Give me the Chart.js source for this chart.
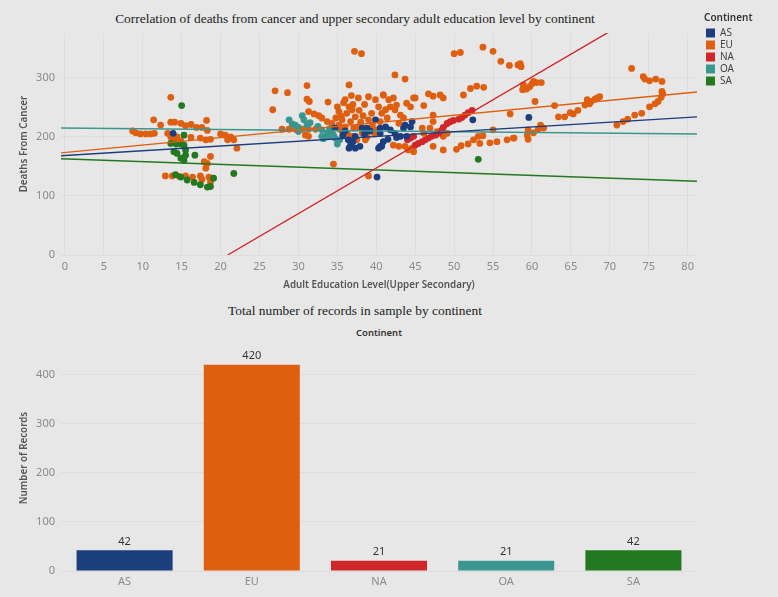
<!DOCTYPE html>
<html>
<head>
<meta charset="utf-8">
<script src="https://cdn.jsdelivr.net/npm/chart.js@4.4.1/dist/chart.umd.min.js"></script>
<style>
  html,body{margin:0;padding:0;background:#e7e7e7;}
  #wrap{position:relative;width:778px;height:597px;background:#e7e7e7;overflow:hidden;}
  .ttl{position:absolute;font-family:"Liberation Serif","Times New Roman",serif;font-size:13.4px;color:#222;white-space:nowrap;transform:translateX(-50%);}
  .hdr{position:absolute;font-family:"Noto Sans",sans-serif;font-size:9.5px;font-weight:600;color:#333;white-space:nowrap;transform:translateX(-50%);}
  canvas{position:absolute;left:0;}
</style>
</head>
<body>
<div id="wrap">
  <div class="ttl" style="left:355px;top:11px;">Correlation of deaths from cancer and upper secondary adult education level by continent</div>
  <div class="ttl" style="left:355px;top:303px;">Total number of records in sample by continent</div>
  <div class="hdr" style="left:379px;top:326px;">Continent</div>
  <canvas id="scatter" width="778" height="300" style="top:0;"></canvas>
  <canvas id="bars" width="778" height="297" style="top:300px;"></canvas>
</div>
<script>
// ---------- data ----------
const CONTINENTS = ['AS', 'EU', 'NA', 'OA', 'SA'];
const COLORS = ['#1c3d7e', '#df5f10', '#d1272a', '#3a968f', '#24781f'];

const AS_POINTS = [
  [13.9,206],
  [34.7,215],[35.7,203],[36.4,195],[36.7,186],[36.5,181],[37.3,181],[37.9,184],[38.2,215],[38.8,215],
  [39.9,229],[40.5,215],[40.3,181],[40.7,184],[37.3,201],[40.1,132],
  [40.5,206],[40.5,184],[41.2,217],[41.8,212],[42.4,206],[42.6,199],[43.5,215],[43.9,201],[43.7,220],
  [44.4,217],[44.6,226],[43.1,201],[40.9,192],[52.4,229],[59.6,233],
  [37.0,192],[38.5,205],[41.5,196],[36.0,210],[39.2,210]
];
const EU_POINTS = [
  [13.6,267],[11.4,229],[12.3,220],[13.6,225],[14.1,225],[14.9,223],[15.5,219],[16.2,221],[16.9,216],[17.6,216],[18.2,228],[18.3,211],
  [8.7,210],[9.1,207],[9.7,205],[10.4,205],[11.0,205],[11.5,206],
  [13.2,206],[13.6,200],[14.4,200],[16.2,199],[17.4,198],[18.1,195],[18.7,196],[20.0,205],[20.6,203],[21.3,200],[21.7,195],[22.1,181],[20.9,195],
  [14.0,195],[14.9,193],
  [17.9,158],[18.3,155],[18.1,147],[18.7,167],
  [12.9,134],[13.8,134],[14.7,133],[15.5,134],[16.4,132],[17.4,134],[17.6,128],[18.5,132],[18.7,124],
  [37.2,345],[38.1,341],[27.0,278],[28.6,275],[26.7,246],[31.1,287],[31.1,264],[31.4,260],[33.8,259],[36.5,288],[37.7,266],
  [31.3,243],[32.0,239],[32.6,236],[33.0,232],[33.7,226],[34.3,223],
  [35.0,251],[35.2,243],[35.6,229],[36.0,263],[36.5,251],[36.9,246],[37.3,234],[36.7,226],[36.0,217],[35.4,212],[37.1,215],
  [37.7,217],[38.2,206],[39.0,229],[39.4,240],[39.0,268],[39.9,263],[40.3,251],[40.7,240],[40.9,271],[38.6,195],[37.5,195],[36.9,201],
  [34.5,154],[39.0,134],
  [27.9,213],[28.8,213],[29.6,213],[30.5,213],[31.3,213],[32.2,213],[30.9,203],[31.3,201],
  [35.5,235],[36.2,240],[37.8,245],[38.5,255],[36.8,270],[35.8,258],[38.0,225],[39.5,220],[34.8,232],[36.3,205],[38.8,200],
  [39.8,205],[35.2,220],[37.0,255],[40.0,212],[38.3,236],
  [50.0,341],[50.8,343],[53.7,352],[55.0,345],[56.0,328],[57.1,321],[58.2,322],
  [42.4,305],[43.7,298],
  [46.7,273],[47.3,269],[48.2,271],[48.6,266],
  [51.2,271],[52.1,282],[52.9,286],[53.8,284],
  [45.0,266],[46.1,253],
  [40.9,271],[41.6,263],[42.2,266],[42.6,254],[41.8,251],[41.2,246],[42.4,246],[43.1,237],[43.5,232],[41.4,232],[40.5,226],
  [42.9,223],[43.9,257],[44.4,251],[44.8,266],
  [45.9,215],[46.9,215],[47.3,226],[47.3,237],[49.1,206],[48.6,201],[47.8,209],[46.1,206],
  [42.2,186],[42.9,184],[43.7,184],[44.1,178],[44.8,175],[44.6,181],[47.3,184],[48.6,178],[50.3,179],[50.9,185],[51.8,188],
  [52.5,195],[53.1,201],[53.7,202],[53.3,189],[54.6,190],[55.5,192],[56.8,195],[57.6,198],[55.0,212],[57.2,239],
  [58.5,324],[58.6,319],
  [58.9,288],[59.3,281],[58.8,280],[59.7,285],[60.2,294],[60.6,292],[61.2,292],[60.0,290],
  [60.4,260],[62.9,253],
  [63.4,234],[64.2,234],[64.9,241],[65.3,239],[65.9,245],
  [66.8,254],[67.1,263],[67.6,260],[67.4,256],[68.1,264],[68.4,266],[68.7,268],
  [57.7,198],[59.5,212],[60.2,207],[60.8,213],[61.1,220],[61.5,215],[59.5,196],[59.4,203],
  [72.8,316],[74.3,302],[74.5,298],[75.1,295],[75.9,298],[76.7,294],
  [76.7,277],[76.8,273],[76.6,267],[76.2,260],[75.8,256],[75.1,251],[74.1,240],[73.2,237],[72.3,230],[71.7,226],[70.9,220]
];
const NA_POINTS = [
  [44.0,195],[44.4,198],[44.8,201],[45.0,186],[45.4,189],[45.9,192],[46.3,195],[46.7,198],[47.1,201],[47.6,203],
  [48.0,206],[48.4,211],[48.6,216],[49.1,223],[49.5,226],[49.9,228],[50.6,230],[51.0,233],[51.4,237],[51.8,241],[52.3,245]
];
const OA_POINTS = [
  [28.8,229],[30.5,236],[30.7,229],[29.6,220],[31.1,220],[30.0,216],[33.0,212],[33.7,206],[33.9,201],[34.5,203],[33.0,201],
  [35.0,188],[34.7,198],[34.1,209],[31.5,224],[32.5,218],[34.0,214],[29.2,222],[35.3,195],[30.0,209],[33.2,197]
];
const SA_POINTS = [
  [15.0,253],[15.3,203],[13.6,189],[14.3,188],[14.9,188],[15.3,186],[14.0,175],[14.4,172],[15.5,178],[15.5,169],[14.9,164],
  [15.3,160],[16.7,169],[21.7,138],[14.2,136],[14.9,132],[15.7,127],[16.6,123],[17.4,119],[18.3,115],[18.7,116],[19.1,130],
  [53.1,162]
];
// trend line end points [x, y]
const AS_TREND = [[-0.5,168],[81.2,234]];
const EU_TREND = [[-0.5,173],[81.2,276]];
const NA_TREND = [[20.9,0],[81.2,465]];
const OA_TREND = [[-0.5,215],[81.2,205]];
const SA_TREND = [[-0.5,163],[81.2,125]];

const X_TICKS = [0,5,10,15,20,25,30,35,40,45,50,55,60,65,70,75,80];
const Y_TICKS = [0,100,200,300];

const BAR_VALUES = [42, 420, 21, 21, 42];
const BAR_TICKS = [0,100,200,300,400];

// ---------- helpers ----------
const toXY = arr => arr.map(p => ({x: p[0], y: p[1]}));
const TICK_FONT = {family: '"Noto Sans", sans-serif', size: 11};
const TICK_COLOR = '#8a8a8a';
const AXIS_TITLE_FONT = {family: '"Noto Sans", sans-serif', size: 9.8, weight: '600'};
const GRID_COLOR = 'rgba(0,0,0,0.045)';

const pointSets = [AS_POINTS, EU_POINTS, NA_POINTS, OA_POINTS, SA_POINTS];
const trendSets = [AS_TREND, EU_TREND, NA_TREND, OA_TREND, SA_TREND];
const pointOrder = [1, 3, 1, 2, 2];

const datasets = [];
CONTINENTS.forEach((c, i) => {
  datasets.push({
    type: 'scatter', label: c, data: toXY(pointSets[i]),
    backgroundColor: COLORS[i], borderColor: COLORS[i], borderWidth: 0,
    pointRadius: 3.4, pointHoverRadius: 3.4, order: pointOrder[i]
  });
});
CONTINENTS.forEach((c, i) => {
  datasets.push({
    type: 'line', label: c + ' trend', data: toXY(trendSets[i]),
    borderColor: COLORS[i], borderWidth: 1.4, pointRadius: 0, fill: false,
    showLine: true, order: 0
  });
});

const legendPlace = {
  id: 'legendPlace',
  afterLayout(chart) {
    const lg = chart.legend;
    if (!lg) return;
    lg.left = 704; lg.right = 776; lg.top = 8; lg.bottom = 120;
    lg.width = 72; lg.height = 112;
  }
};

new Chart(document.getElementById('scatter'), {
  type: 'scatter',
  data: {datasets},
  plugins: [legendPlace],
  options: {
    responsive: false, animation: false,
    layout: {padding: {top: 33, right: 80, left: 0, bottom: 0}},
    plugins: {
      tooltip: {enabled: false},
      legend: {
        display: true, position: 'right', align: 'start', maxWidth: 1,
        title: {display: true, text: 'Continent', position: 'start', color: '#333',
          font: {family: '"Noto Sans", sans-serif', size: 10, weight: '600'}, padding: {top: 5, bottom: 1}},
        labels: {
          filter: item => item.datasetIndex < 5,
          sort: (a, b) => a.datasetIndex - b.datasetIndex,
          boxWidth: 9, boxHeight: 9, padding: 2, color: '#444',
          font: {family: '"Noto Sans", sans-serif', size: 10}
        }
      }
    },
    scales: {
      x: {
        type: 'linear', min: -0.5, max: 81.2,
        afterBuildTicks: ax => { ax.ticks = X_TICKS.map(v => ({value: v})); },
        afterFit: ax => { ax.height = 45; },
        grid: {color: GRID_COLOR, drawTicks: false},
        border: {display: false},
        ticks: {font: TICK_FONT, color: TICK_COLOR, padding: 5, maxRotation: 0, autoSkip: false},
        title: {display: true, text: 'Adult Education Level(Upper Secondary)', color: '#555',
          font: AXIS_TITLE_FONT, padding: {top: 0, bottom: 9}}
      },
      y: {
        type: 'linear', min: 0, max: 376,
        afterBuildTicks: ax => { ax.ticks = Y_TICKS.map(v => ({value: v})); },
        afterFit: ax => { ax.width = 61; },
        grid: {color: GRID_COLOR, drawTicks: false},
        border: {display: false},
        ticks: {font: TICK_FONT, color: TICK_COLOR, padding: 6},
        title: {display: true, text: 'Deaths From Cancer', color: '#555',
          font: AXIS_TITLE_FONT, padding: {top: 18, bottom: 0}}
      }
    }
  }
});

const barLabels = {
  id: 'barLabels',
  afterDatasetsDraw(chart) {
    const ctx = chart.ctx;
    const meta = chart.getDatasetMeta(0);
    ctx.save();
    ctx.font = '11px "Noto Sans", sans-serif';
    ctx.fillStyle = '#333';
    ctx.textAlign = 'center';
    ctx.textBaseline = 'bottom';
    meta.data.forEach((bar, i) => {
      ctx.fillText(String(chart.data.datasets[0].data[i]), bar.x, bar.y - 3);
    });
    ctx.restore();
  }
};

new Chart(document.getElementById('bars'), {
  type: 'bar',
  data: {
    labels: CONTINENTS,
    datasets: [{label: 'Number of Records', data: BAR_VALUES, backgroundColor: COLORS,
      barPercentage: 0.755, categoryPercentage: 1.0, borderWidth: 0}]
  },
  plugins: [barLabels],
  options: {
    responsive: false, animation: false,
    layout: {padding: {top: 45, right: 81, left: 0, bottom: 0}},
    plugins: {legend: {display: false}, tooltip: {enabled: false}},
    scales: {
      x: {
        afterFit: ax => { ax.height = 26; },
        grid: {display: false, drawTicks: false},
        border: {display: false},
        ticks: {font: TICK_FONT, color: TICK_COLOR, padding: 4}
      },
      y: {
        min: 0, max: 460,
        afterBuildTicks: ax => { ax.ticks = BAR_TICKS.map(v => ({value: v})); },
        afterFit: ax => { ax.width = 61; },
        grid: {color: GRID_COLOR, drawTicks: false},
        border: {display: false},
        ticks: {font: TICK_FONT, color: TICK_COLOR, padding: 6},
        title: {display: true, text: 'Number of Records', color: '#555',
          font: AXIS_TITLE_FONT, padding: {top: 18, bottom: 0}}
      }
    }
  }
});
</script>
</body>
</html>
